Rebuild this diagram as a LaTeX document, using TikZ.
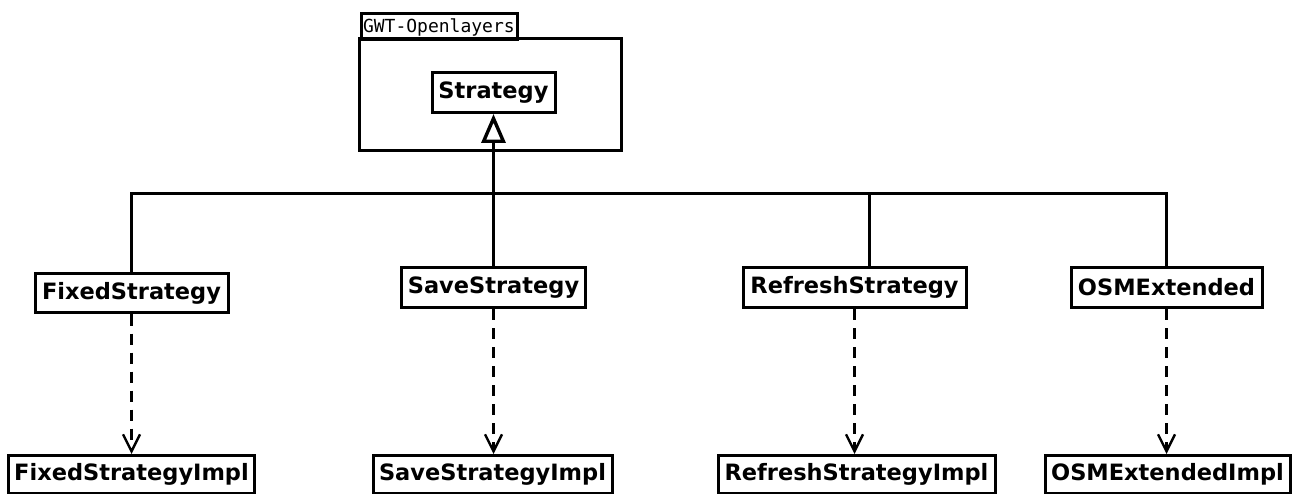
\documentclass[tikz,border=0pt]{standalone}
\usepackage{fontspec}
\setmainfont{DejaVu Sans}
\newfontfamily\pkgfont{DejaVu Sans Mono}
\usetikzlibrary{arrows.meta}
\begin{document}
\begin{tikzpicture}[x=1pt,y=-1pt,line width=3pt,
  cls/.style={draw, fill=white, inner sep=0pt, font=\fontsize{22.5}{25}\selectfont\bfseries},
  gen/.style={-{Triangle[open,length=29pt,width=24pt,line width=3.4pt]}},
  dep/.style={dash pattern=on 11pt off 8pt, -{Straight Barb[length=17pt,width=17pt,line width=2.4pt]}}]
  \useasboundingbox (0,0) rectangle (1293,494);
  % package frame with its name tab
  \draw (359.5,38.5) rectangle (621.5,150.5);
  \node[draw, inner sep=0pt, minimum width=156pt, minimum height=26pt, anchor=north west,
        font=\pkgfont\fontsize{18}{20}\selectfont, text width=152pt, align=left] (tab) at (359.5,12.5) {GWT-Openlayers};
  % interface and classes
  \node[cls, minimum width=123pt, minimum height=40pt] (strategy) at (493.5,92.5) {Strategy};
  \node[cls, minimum width=193pt, minimum height=39pt] (fixed) at (131.5,293.5) {FixedStrategy};
  \node[cls, minimum width=184pt, minimum height=40pt] (save) at (493.5,287.5) {SaveStrategy};
  \node[cls, minimum width=223pt, minimum height=40pt] (refresh) at (854.5,287.5) {RefreshStrategy};
  \node[cls, minimum width=191pt, minimum height=40pt] (osm) at (1166.5,287.5) {OSMExtended};
  \node[cls, minimum width=246pt, minimum height=38pt] (fixedImpl) at (131.5,474.5) {FixedStrategyImpl};
  \node[cls, minimum width=239pt, minimum height=38pt] (saveImpl) at (492.5,474.5) {SaveStrategyImpl};
  \node[cls, minimum width=277pt, minimum height=38pt] (refreshImpl) at (856.5,474.5) {RefreshStrategyImpl};
  \node[cls, minimum width=245pt, minimum height=38pt] (osmImpl) at (1167.5,474.5) {OSMExtendedImpl};
  % generalization tree
  \coordinate (bus) at (493.5,193.5);
  \draw[gen] (bus) -- (strategy.south);
  \draw (fixed.north) |- (bus);
  \draw (save.north) -- (bus);
  \draw ([xshift=15pt]refresh.north) |- (bus);
  \draw (osm.north) |- (bus);
  % realizations
  \draw[dep] (fixed.south) -- (fixed.south |- fixedImpl.north);
  \draw[dep] (save.south) -- (save.south |- saveImpl.north);
  \draw[dep] (refresh.south) -- (refresh.south |- refreshImpl.north);
  \draw[dep] (osm.south) -- (osm.south |- osmImpl.north);
\end{tikzpicture}
\end{document}
